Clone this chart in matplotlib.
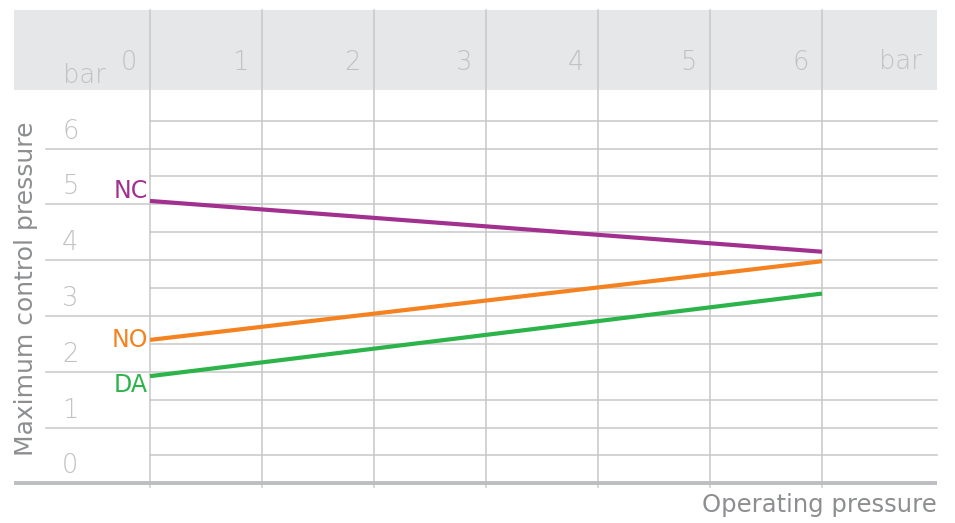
import matplotlib.pyplot as plt
import numpy as np

plt.rcParams['font.family'] = ['DejaVu Sans']

# data
x_ticks = [0, 1, 2, 3, 4, 5, 6]
y_ticks = [0, 1, 2, 3, 4, 5, 6]
series = ['NC', 'NO', 'DA']
x_pts = [0, 6]
nc_vals = [5.06, 4.15]
no_vals = [2.57, 3.98]
da_vals = [1.92, 3.40]
values = [nc_vals, no_vals, da_vals]
colors = ['#a2308f', '#f58220', '#2cb34a']
label_dy = [0.05, -0.12, -0.28]   # label baseline offset from line start

# pixel layout of the reference (x=0 at 150px, 112px per bar; y=0 at 483px, 55.8px per bar)
W, H = 955, 523
X0, UX = 150, 112
Y0, UY = 483.3, 55.8

fig = plt.figure(figsize=(W / 100, H / 100), dpi=100)
ax = fig.add_axes([0, 0, 1, 1])
ax.set_xlim(-X0 / UX, (W - X0) / UX)
ax.set_ylim((Y0 - H) / UY, Y0 / UY)
ax.axis('off')


def px(x):
    return (x - X0) / UX


def py(y):
    return (Y0 - y) / UY


grid_c = '#c8c8c9'
tick_c = '#c0c1c3'
title_c = '#8d8e90'

# gray header band
ax.fill_between([px(14), px(937)], py(90), py(10), color='#e6e7e8', lw=0, zorder=0)

# vertical grid
for t in x_ticks:
    ax.plot([t, t], [py(487), py(10)], color=grid_c, lw=1.1, zorder=1)

# horizontal grid: whole bars reach under the labels, half bars start at 0
for t in y_ticks[1:]:
    ax.plot([px(46), px(937)], [t, t], color=grid_c, lw=1.1, zorder=1)
for t in np.arange(0.5, 7, 1):
    ax.plot([0, px(937)], [t, t], color=grid_c, lw=1.1, zorder=1)

# bottom axis line
ax.plot([px(14), px(937)], [0, 0], color='#bdbec1', lw=2.8,
        solid_capstyle='butt', zorder=2)

# tick labels
for t in x_ticks:
    ax.text(t - 0.12, py(70), str(t), ha='right', va='baseline',
            fontsize=18.5, color=tick_c, fontweight='light')
for t in y_ticks:
    ax.text(px(62), t + 10 / UY, str(t), ha='left', va='baseline',
            fontsize=18.5, color=tick_c, fontweight='light')
ax.text(px(63), py(83), 'bar', ha='left', va='baseline',
        fontsize=18.5, color=tick_c, fontweight='light')
ax.text(px(922), py(69), 'bar', ha='right', va='baseline',
        fontsize=18.5, color=tick_c, fontweight='light')

# series
for name, vals, c, dy in zip(series, values, colors, label_dy):
    ax.plot(x_pts, vals, color=c, lw=3.0, solid_capstyle='butt', zorder=3)
    ax.text(x_pts[0] - 0.02, vals[0] + dy, name, ha='right', va='baseline',
            fontsize=17, color=c)

# axis titles
ax.text(px(26), py(289), 'Maximum control pressure', rotation=90,
        ha='center', va='center', fontsize=18, color=title_c)
ax.text(px(937), py(512), 'Operating pressure', ha='right', va='baseline',
        fontsize=17.5, color=title_c)

fig.savefig('out.png', dpi=100)
